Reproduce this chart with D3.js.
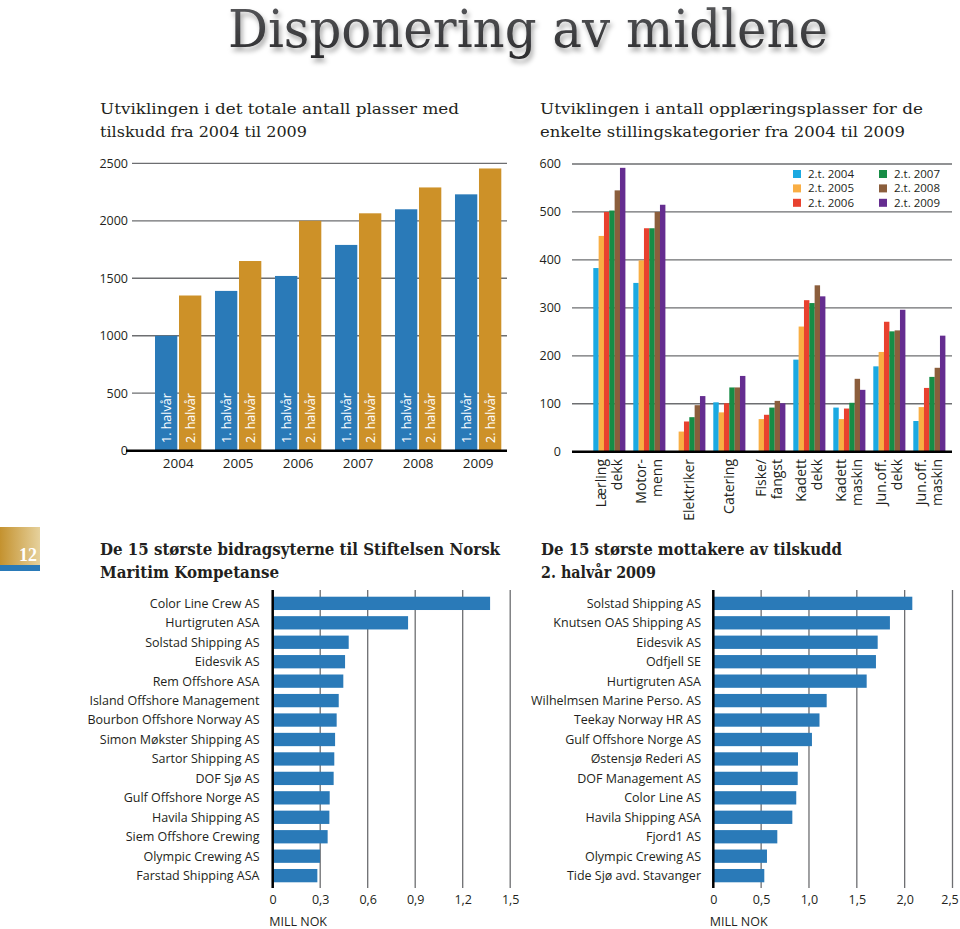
<!DOCTYPE html>
<html><head><meta charset="utf-8">
<script src="https://cdn.jsdelivr.net/npm/d3@7"></script>
<style>
body{margin:0;background:#fff;}
svg{display:block;}
.ax{font-family:"Open Sans",sans-serif;font-size:12.5px;fill:#231f20;}
</style></head>
<body><svg id="c" width="960" height="929"></svg>
<script>
// ---------- DATA ----------
const years = ["2004","2005","2006","2007","2008","2009"];
const half1 = [1000,1390,1520,1790,2100,2230];
const half2 = [1350,1650,2000,2065,2290,2455];
const halfLabels = ["1. halvår","2. halvår"];
const leftTicks = [0,500,1000,1500,2000,2500];

const categories = ["Lærling dekk","Motor- menn","Elektriker","Catering","Fiske/ fangst","Kadett dekk","Kadett maskin","Jun.off. dekk","Jun.off. maskin"];
const seriesNames = ["2.t. 2004","2.t. 2005","2.t. 2006","2.t. 2007","2.t. 2008","2.t. 2009"];
const s2004 = [383,352,0,103,0,192,92,178,64];
const s2005 = [450,399,42,82,68,261,68,208,93];
const s2006 = [500,466,63,101,77,316,90,271,133];
const s2007 = [503,466,72,134,92,310,102,251,156];
const s2008 = [545,500,97,134,106,347,152,253,175];
const s2009 = [592,515,116,158,101,324,129,296,242];
const midTicks = [0,100,200,300,400,500,600];

const donors = ["Color Line Crew AS","Hurtigruten ASA","Solstad Shipping AS","Eidesvik AS","Rem Offshore ASA","Island Offshore Management","Bourbon Offshore Norway AS","Simon Møkster Shipping AS","Sartor Shipping AS","DOF Sjø AS","Gulf Offshore Norge AS","Havila Shipping AS","Siem Offshore Crewing","Olympic Crewing AS","Farstad Shipping ASA"];
const donorValues = [1.373,0.855,0.48,0.457,0.446,0.417,0.404,0.394,0.389,0.385,0.36,0.358,0.347,0.299,0.282];
const donorTicks = [0,0.3,0.6,0.9,1.2,1.5];

const recipients = ["Solstad Shipping AS","Knutsen OAS Shipping AS","Eidesvik AS","Odfjell SE","Hurtigruten ASA","Wilhelmsen Marine Perso. AS","Teekay Norway HR AS","Gulf Offshore Norge AS","Østensjø Rederi AS","DOF Management AS","Color Line AS","Havila Shipping ASA","Fjord1 AS","Olympic Crewing AS","Tide Sjø avd. Stavanger"];
const recipientValues = [2.08,1.846,1.718,1.70,1.603,1.185,1.11,1.031,0.885,0.882,0.867,0.826,0.669,0.561,0.533];
const recipientTicks = [0,0.5,1.0,1.5,2.0,2.5];

// ---------- STYLE ----------
const BLUE = "#2a7ab8", GOLD = "#cd9128";
const midColors = ["#1ba9e1","#f9ae44","#e8412f","#178d46","#8b5e3c","#652d90"];
const GRID = "#6d6e71";

const svg = d3.select("#c");
const defs = svg.append("defs");
const sh = defs.append("filter").attr("id","sh").attr("x","-5%").attr("y","-20%").attr("width","115%").attr("height","160%");
sh.append("feDropShadow").attr("dx",2).attr("dy",4).attr("stdDeviation",2.5).attr("flood-color","#000").attr("flood-opacity",0.35);
const tg = defs.append("linearGradient").attr("id","tg").attr("x1",0).attr("y1",0).attr("x2",0).attr("y2",1);
tg.append("stop").attr("offset","0%").attr("stop-color","#5a5b5e");
tg.append("stop").attr("offset","100%").attr("stop-color","#2b2b2d");
const pg = defs.append("linearGradient").attr("id","pg").attr("x1",0).attr("y1",0).attr("x2",1).attr("y2",0);
pg.append("stop").attr("offset","0%").attr("stop-color","#c4922f");
pg.append("stop").attr("offset","100%").attr("stop-color","#e6d19c");

// ---------- TITLES ----------
svg.append("text").attr("x",228).attr("y",47)
  .attr("textLength",600).attr("lengthAdjust","spacingAndGlyphs")
  .style("font-family","'DejaVu Serif Condensed','DejaVu Serif',serif").style("font-size","52px")
  .attr("fill","url(#tg)").attr("filter","url(#sh)").text("Disponering av midlene");

function serifLines(x, ys, lines, lens, size, weight){
  lines.forEach((t,i)=>{
    svg.append("text").attr("x",x).attr("y",ys[i])
      .attr("textLength",lens[i]).attr("lengthAdjust","spacingAndGlyphs")
      .style("font-family","'DejaVu Serif Condensed','DejaVu Serif',serif").style("font-size",size+"px")
      .style("font-weight",weight).attr("fill","#231f20").text(t);
  });
}
serifLines(100,[114,137],["Utviklingen i det totale antall plasser med","tilskudd fra 2004 til 2009"],[359,207],15.5,"normal");
serifLines(540,[114,137],["Utviklingen i antall opplæringsplasser for de","enkelte stillingskategorier fra 2004 til 2009"],[383,365],15.5,"normal");
serifLines(100,[555,578],["De 15 største bidragsyterne til Stiftelsen Norsk","Maritim Kompetanse"],[400,179],16.5,"bold");
serifLines(541,[555,578],["De 15 største mottakere av tilskudd","2. halvår 2009"],[301,115],16.5,"bold");

// page marker
svg.append("rect").attr("x",0).attr("y",527).attr("width",40).attr("height",38).attr("fill","url(#pg)");
svg.append("rect").attr("x",0).attr("y",565).attr("width",40).attr("height",6).attr("fill",BLUE);
svg.append("text").attr("x",37).attr("y",561).attr("text-anchor","end")
  .style("font-family","'Liberation Serif',serif").style("font-weight","bold").style("font-size","18px")
  .attr("fill","#fff").text("12");

// ---------- CHART 1 ----------
{
  const y = d3.scaleLinear().domain([0,2500]).range([450.7,163.3]);
  const x = d3.scaleBand().domain(years).range([137,519.3]).paddingInner(0.228).paddingOuter(0.3);
  const xs = d3.scaleBand().domain([0,1]).range([0,x.bandwidth()]).paddingInner(0.07);
  const g = svg.append("g");
  g.selectAll("line.grid").data(leftTicks.filter(d=>d>0)).join("line")
    .attr("x1",132).attr("x2",507).attr("y1",d=>y(d)).attr("y2",d=>y(d))
    .attr("stroke",GRID).attr("stroke-width",1.3);
  g.selectAll("text.yt").data(leftTicks).join("text").attr("class","ax")
    .attr("x",128).attr("y",d=>y(d)).attr("dy","0.35em").attr("text-anchor","end").text(d=>d);
  const rows = [];
  years.forEach((yr,i)=>{ rows.push({yr,h:0,v:half1[i]}); rows.push({yr,h:1,v:half2[i]}); });
  g.selectAll("rect").data(rows).join("rect")
    .attr("x",d=>x(d.yr)+xs(d.h)).attr("width",xs.bandwidth())
    .attr("y",d=>y(d.v)).attr("height",d=>y(0)-y(d.v))
    .attr("fill",d=>d.h?GOLD:BLUE);
  g.selectAll("text.in").data(rows).join("text").attr("class","ax")
    .attr("transform",d=>`translate(${x(d.yr)+xs(d.h)+xs.bandwidth()/2+4.6},443) rotate(-90)`)
    .style("fill","#fff").text(d=>halfLabels[d.h]);
  g.append("line").attr("x1",126).attr("x2",507).attr("y1",y(0)).attr("y2",y(0)).attr("stroke","#000").attr("stroke-width",2.5);
  const ax = g.append("g").attr("transform",`translate(0,${y(0)+8})`)
    .call(d3.axisBottom(x).tickSize(0).tickPadding(0));
  ax.select(".domain").remove();
  ax.selectAll("text").attr("class","ax").style("font-size","13.5px").attr("dy","0.71em");
}

// ---------- CHART 2 ----------
{
  const y = d3.scaleLinear().domain([0,600]).range([451.7,164]);
  const x = d3.scaleBand().domain(categories).range([585.3,953.3]).paddingInner(0.2).paddingOuter(0.2);
  const xs = d3.scaleBand().domain(d3.range(6)).range([0,x.bandwidth()]);
  const g = svg.append("g");
  g.selectAll("line.grid").data(midTicks.filter(d=>d>0)).join("line")
    .attr("x1",572).attr("x2",952).attr("y1",d=>y(d)).attr("y2",d=>y(d))
    .attr("stroke",GRID).attr("stroke-width",1.3);
  g.selectAll("text.yt").data(midTicks).join("text").attr("class","ax")
    .attr("x",561).attr("y",d=>y(d)).attr("dy","0.35em").attr("text-anchor","end").text(d=>d);
  const all = [s2004,s2005,s2006,s2007,s2008,s2009];
  const rows = [];
  categories.forEach((c,i)=>all.forEach((s,k)=>rows.push({c,k,v:s[i]})));
  g.selectAll("rect").data(rows.filter(d=>d.v>0)).join("rect")
    .attr("x",d=>x(d.c)+xs(d.k)).attr("width",xs.bandwidth()+0.1)
    .attr("y",d=>y(d.v)).attr("height",d=>y(0)-y(d.v)).attr("fill",d=>midColors[d.k]);
  g.append("line").attr("x1",572).attr("x2",952).attr("y1",y(0)).attr("y2",y(0)).attr("stroke","#000").attr("stroke-width",2.5);
  categories.forEach(c=>{
    const parts = c.split(" ");
    const cx = x(c)+x.bandwidth()/2;
    parts.forEach((p,i)=>{
      const off = parts.length===1?0:(i===0?-8:8);
      g.append("text").attr("class","ax").style("font-size","14px")
        .attr("transform",`translate(${cx+off+5},459) rotate(-90)`)
        .attr("text-anchor","end").text(p);
    });
  });
  // legend
  const leg = g.selectAll("g.leg").data(seriesNames).join("g")
    .attr("transform",(d,i)=>`translate(${i<3?793:879},${174+ (i%3)*14.4})`);
  leg.append("rect").attr("x",0).attr("y",-4).attr("width",8).attr("height",8).attr("fill",(d,i)=>midColors[i]);
  leg.append("text").attr("class","ax").attr("x",15).attr("dy","0.35em").style("font-size","11.5px").text(d=>d);
}

// ---------- HORIZONTAL BAR CHARTS ----------
function hbar(names, vals, ticks, x0, x1, labelX, fmt){
  const x = d3.scaleLinear().domain([0,ticks[ticks.length-1]]).range([x0,x1]);
  const y = d3.scaleBand().domain(names).range([589.9,889.1]).paddingInner(0.316).paddingOuter(0.35);
  const g = svg.append("g");
  g.selectAll("line.grid").data(ticks.slice(1)).join("line")
    .attr("x1",d=>x(d)).attr("x2",d=>x(d)).attr("y1",590).attr("y2",888)
    .attr("stroke",GRID).attr("stroke-width",1.3);
  g.selectAll("rect").data(names).join("rect")
    .attr("x",x(0)).attr("y",d=>y(d)).attr("height",y.bandwidth())
    .attr("width",(d,i)=>x(vals[i])-x(0)).attr("fill",BLUE);
  g.append("line").attr("x1",x(0)).attr("x2",x(0)).attr("y1",590).attr("y2",888).attr("stroke","#000").attr("stroke-width",2.5);
  g.selectAll("text.lab").data(names).join("text").attr("class","ax")
    .attr("x",labelX).attr("y",d=>y(d)+y.bandwidth()/2).attr("dy","0.35em").attr("text-anchor","end").text(d=>d);
  const ax = g.append("g").attr("transform","translate(0,895)")
    .call(d3.axisBottom(x).tickValues(ticks).tickSize(0).tickPadding(0).tickFormat(fmt));
  ax.select(".domain").remove();
  ax.selectAll("text").attr("class","ax").attr("dy","0.71em");
  ax.selectAll("g.tick:last-of-type text").attr("dx", x1 > 940 ? "-3" : "0");
  g.append("text").attr("class","ax").attr("x",x0-3.5).attr("y",926).text("MILL NOK");
}
const f1 = d=> d===0?"0":d3.format(".1f")(d).replace(".",",");
hbar(donors, donorValues, donorTicks, 272.7, 510.2, 259.5, f1);
hbar(recipients, recipientValues, recipientTicks, 713.3, 952.5, 701, f1);
</script></body></html>
